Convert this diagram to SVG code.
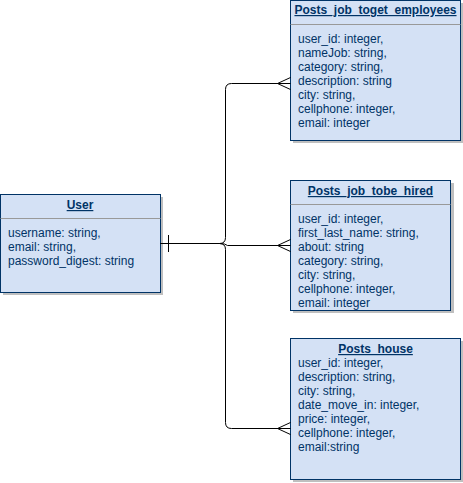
<svg xmlns="http://www.w3.org/2000/svg" width="463" height="483" viewBox="0 0 463 483">
<defs>
<style>
.box{fill:#D4E1F5;stroke:#003366;stroke-width:1}
.shadow{fill:#000;opacity:0.25}
.sep{stroke:#999;stroke-width:1}
.t{font-family:"Liberation Sans",Arial,sans-serif;font-size:12px;fill:#003366}
.title{font-weight:bold;text-decoration:underline;text-anchor:middle}
.edge{fill:none;stroke:#000;stroke-width:1}
</style>
</defs>
<rect width="463" height="483" fill="#fff"/>
<g id="user">
<rect class="shadow" x="3" y="197" width="160" height="98"/>
<rect class="box" x="0.5" y="194.5" width="160" height="98"/>
<line class="sep" x1="0.5" y1="218.5" x2="160.5" y2="218.5"/>
<text class="t title" x="80" y="209">User</text>
<text class="t" x="8" y="237">username: string,</text>
<text class="t" x="8" y="251">email: string,</text>
<text class="t" x="8" y="265">password_digest: string</text>
</g>
<g id="posts_job_toget_employees">
<rect class="shadow" x="293" y="3" width="171" height="140"/>
<rect class="box" x="290.5" y="0.5" width="170" height="140"/>
<line class="sep" x1="290.5" y1="24.5" x2="460.5" y2="24.5"/>
<text class="t title" x="375.5" y="14">Posts_job_toget_employees</text>
<text class="t" x="298" y="43">user_id: integer,</text>
<text class="t" x="298" y="57">nameJob: string,</text>
<text class="t" x="298" y="71">category: string,</text>
<text class="t" x="298" y="85">description: string</text>
<text class="t" x="298" y="99">city: string,</text>
<text class="t" x="298" y="113">cellphone: integer,</text>
<text class="t" x="298" y="127">email: integer</text>
</g>
<g id="posts_job_tobe_hired">
<rect class="shadow" x="293" y="183" width="161" height="130"/>
<rect class="box" x="290.5" y="180.5" width="160" height="130"/>
<line class="sep" x1="290.5" y1="204.5" x2="450.5" y2="204.5"/>
<text class="t title" x="370.5" y="195">Posts_job_tobe_hired</text>
<text class="t" x="298" y="223">user_id: integer,</text>
<text class="t" x="298" y="237">first_last_name: string,</text>
<text class="t" x="298" y="251">about: string</text>
<text class="t" x="298" y="265">category: string,</text>
<text class="t" x="298" y="279">city: string,</text>
<text class="t" x="298" y="293">cellphone: integer,</text>
<text class="t" x="298" y="307">email: integer</text>
</g>
<g id="posts_house">
<rect class="shadow" x="293" y="341" width="171" height="141"/>
<rect class="box" x="290.5" y="338.5" width="170" height="141"/>
<text class="t title" x="375.5" y="353">Posts_house</text>
<text class="t" x="298" y="367">user_id: integer,</text>
<text class="t" x="298" y="381">description: string,</text>
<text class="t" x="298" y="395">city: string,</text>
<text class="t" x="298" y="409">date_move_in: integer,</text>
<text class="t" x="298" y="423">price: integer,</text>
<text class="t" x="298" y="437">cellphone: integer,</text>
<text class="t" x="298" y="451">email:string</text>
</g>
<g id="connectors">
<path class="edge" d="M160.5 243.5 H219.5 Q225.5 243.5 225.5 237.5 V89.5 Q225.5 83.5 231.5 83.5 H290.5"/>
<path class="edge" d="M160.5 243.5 H219.5 Q225.5 243.5 225.5 249.5 V422.5 Q225.5 428.5 231.5 428.5 H290.5"/>
<path class="edge" d="M160.5 243.5 H219.5 Q225.5 243.5 227.5 245.5 H290.5" stroke="#000"/>
<line class="edge" x1="168.5" y1="235" x2="168.5" y2="252"/>
<path class="edge" d="M290.5 77.5 L277.5 83.5 L290.5 89.5"/>
<path class="edge" d="M290.5 239.5 L277.5 245.5 L290.5 251.5"/>
<path class="edge" d="M290.5 422.5 L277.5 428.5 L290.5 434.5"/>
</g>
</svg>
